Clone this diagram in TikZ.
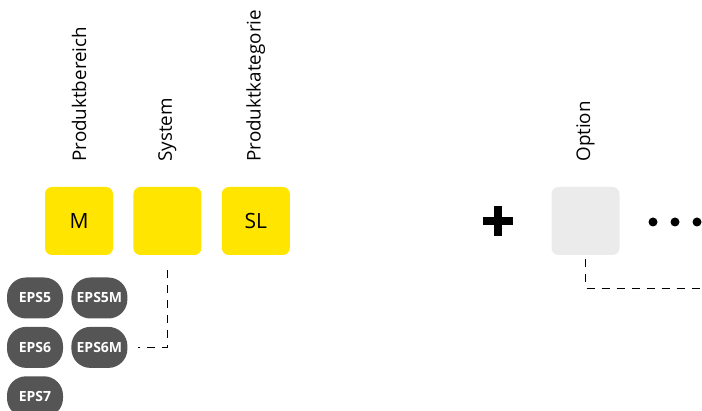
\documentclass[tikz,border=0pt]{standalone}
\usepackage{fontspec}
\setmainfont{Open Sans}
\usetikzlibrary{positioning}
\definecolor{signal}{RGB}{255, 229, 0}
\definecolor{lightgrey}{RGB}{235, 235, 235}
\definecolor{darkgrey}{RGB}{85, 85, 85}

\begin{document}
\begin{tikzpicture}[
        x=1pt, y=-1pt,
        node distance=8pt and 20pt,
        field/.style={rectangle, fill=signal, rounded corners=7pt,
            minimum width=68pt, minimum height=68pt, inner sep=0pt,
            font=\fontsize{21}{24}\selectfont},
        heading/.style={rotate=90, anchor=west, inner sep=0pt,
            font=\fontsize{18.8}{22}\selectfont},
        badge/.style={rectangle, fill=darkgrey, text=white, rounded corners=19pt,
            minimum width=56pt, minimum height=41pt, inner sep=0pt,
            font=\fontsize{14}{16}\selectfont\bfseries},
        conn/.style={line width=0.9pt, dash pattern=on 8pt off 7pt}
        ]
        \useasboundingbox (0,0) rectangle (702,411);

        % code fields
        \node[field] (bereich) at (79,221) {M};
        \node[field, right=of bereich] (system) {};
        \node[field, right=of system] (kategorie) {SL};
        \node[field, fill=lightgrey] (option) at (585.5,221) {};

        % headings
        \node[heading] (hbereich) at ([yshift=25pt]bereich.north) {Produktbereich};
        \node[heading] (hsystem) at ([yshift=25pt]system.north) {System};
        \node[heading] (hkategorie) at ([yshift=25pt]kategorie.north) {Produktkategorie};
        \node[heading] (hoption) at ([yshift=25pt]option.north) {Option};

        % systems
        \node[badge] (eps5) at (35,298) {EPS5};
        \node[badge, right=of eps5, xshift=-12pt] (eps5m) {EPS5M};
        \node[badge, below=of eps5] (eps6) {EPS6};
        \node[badge, below=of eps5m] (eps6m) {EPS6M};
        \node[badge, below=of eps6] (eps7) {EPS7};

        % plus and dots
        \fill (482.5,217.5) rectangle (512.5,225.5);
        \fill (493.5,206.5) rectangle (501.5,236.5);
        \foreach \dx in {653,675,697}
            \fill (\dx,222) circle (4.5pt);

        \coordinate (optend) at (702,288);
        \draw[conn] ([yshift=-15pt]system.south) |- ([xshift=10pt]eps6m.east);
        \draw[conn] ([yshift=-4pt]option.south) |- (optend);
    \end{tikzpicture}
\end{document}
